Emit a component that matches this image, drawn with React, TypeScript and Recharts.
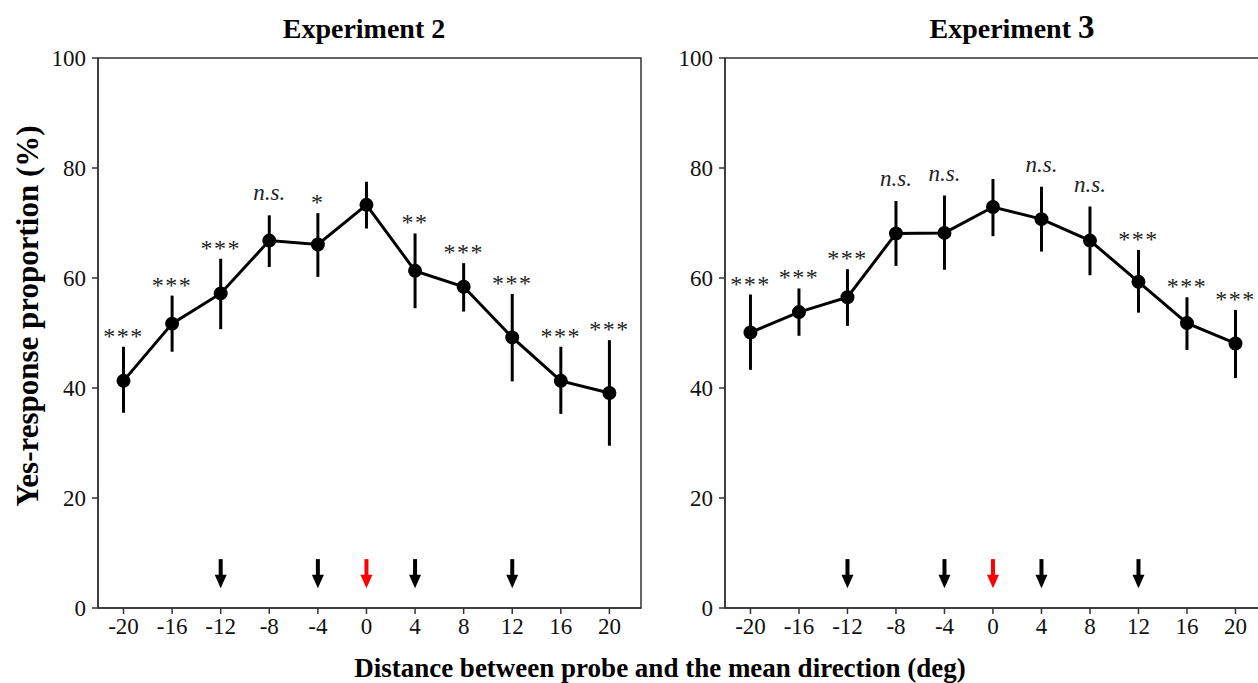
import React from "react";
import {
  ComposedChart,
  Line,
  Scatter,
  XAxis,
  YAxis,
  ErrorBar,
  LabelList,
  ReferenceArea,
} from "recharts";

const distances = [-20, -16, -12, -8, -4, 0, 4, 8, 12, 16, 20];

const exp2Mean = [41.3, 51.7, 57.2, 66.8, 66.1, 73.3, 61.3, 58.4, 49.2, 41.3, 39.1];
const exp2Upper = [47.5, 56.8, 63.5, 71.4, 71.8, 77.5, 68.1, 62.7, 57.1, 47.5, 48.7];
const exp2Lower = [35.5, 46.6, 50.7, 62.0, 60.2, 69.0, 54.5, 53.9, 41.2, 35.3, 29.5];
const exp2Sig = ["***", "***", "***", "n.s.", "*", "", "**", "***", "***", "***", "***"];

const exp3Mean = [50.1, 53.8, 56.5, 68.1, 68.2, 72.9, 70.7, 66.8, 59.3, 51.8, 48.1];
const exp3Upper = [57.0, 58.1, 61.6, 74.0, 75.0, 78.0, 76.6, 73.0, 65.1, 56.5, 54.2];
const exp3Lower = [43.3, 49.5, 51.3, 62.2, 61.5, 67.6, 64.8, 60.5, 53.7, 46.9, 41.8];
const exp3Sig = ["***", "***", "***", "n.s.", "n.s.", "", "n.s.", "n.s.", "***", "***", "***"];

const arrowX = [-12, -4, 0, 4, 12];
const arrowColors = ["#000", "#000", "#ff0000", "#000", "#000"];
const arrowLevel = 6.25;

const xTicks = [-20, -16, -12, -8, -4, 0, 4, 8, 12, 16, 20];
const yTicks = [0, 20, 40, 60, 80, 100];

const FONT = "'Liberation Serif', 'Times New Roman', serif";

function buildRows(mean: number[], upper: number[], lower: number[], sig: string[]) {
  return distances.map((d, i) => ({
    x: d,
    mean: mean[i],
    hi: upper[i],
    err: [mean[i] - lower[i], upper[i] - mean[i]],
    sig: sig[i],
  }));
}

const Arrow = (props: any) => {
  const { cx, cy, payload } = props;
  const c = payload.color;
  return (
    <g>
      <rect x={cx - 2} y={cy - 14.5} width={4} height={16} fill={c} />
      <polygon points={`${cx - 6},${cy + 1} ${cx + 6},${cy + 1} ${cx},${cy + 14.5}`} fill={c} />
    </g>
  );
};

const SigLabel = (props: any) => {
  const { x, y, value } = props;
  if (!value) return null;
  const isNs = value === "n.s.";
  return (
    <text
      x={x}
      y={y - (isNs ? 15 : 3)}
      textAnchor="middle"
      fontFamily={FONT}
      fontSize={isNs ? 23 : 24}
      fontStyle={isNs ? "italic" : "normal"}
      letterSpacing={isNs ? 0 : 1.5}
      fill="#222"
    >
      {value}
    </text>
  );
};

function Panel({ rows, width, margin, left }: any) {
  const arrows = arrowX.map((x, i) => ({ x, y: arrowLevel, color: arrowColors[i] }));
  const tickStyle = { fill: "#111", fontSize: 23, fontFamily: FONT };
  return (
    <div style={{ position: "absolute", left, top: 0 }}>
      <ComposedChart width={width} height={683} data={rows} margin={margin}>
        <XAxis
          dataKey="x"
          type="number"
          domain={[-22.1, 22.6]}
          ticks={xTicks}
          allowDataOverflow
          height={30}
          tick={tickStyle}
          tickSize={6}
          tickMargin={4}
          stroke="#333"
          strokeWidth={1.5}
        />
        <YAxis
          type="number"
          domain={[0, 100]}
          ticks={yTicks}
          width={50}
          tick={tickStyle}
          tickSize={6}
          tickMargin={6}
          stroke="#333"
          strokeWidth={1.5}
        />
        <ReferenceArea
          x1={-22.1}
          x2={22.6}
          y1={0}
          y2={100}
          fill="none"
          stroke="#333"
          strokeWidth={1.5}
          ifOverflow="visible"
        />
        <Line
          dataKey="mean"
          stroke="#000"
          strokeWidth={3}
          dot={{ r: 5.5, fill: "#000", stroke: "#000" }}
          activeDot={false}
          isAnimationActive={false}
        >
          <ErrorBar dataKey="err" direction="y" width={0} stroke="#000" strokeWidth={3} />
        </Line>
        <Line dataKey="hi" stroke="none" dot={false} activeDot={false} isAnimationActive={false}>
          <LabelList dataKey="sig" content={SigLabel} />
        </Line>
        <Scatter data={arrows} dataKey="y" shape={Arrow} isAnimationActive={false} />
      </ComposedChart>
    </div>
  );
}

export default function App() {
  const rows2 = buildRows(exp2Mean, exp2Upper, exp2Lower, exp2Sig);
  const rows3 = buildRows(exp3Mean, exp3Upper, exp3Lower, exp3Sig);
  return (
    <div
      style={{
        position: "absolute",
        left: 0,
        top: 0,
        width: 1258,
        height: 683,
        overflow: "hidden",
        background: "#fff",
      }}
    >
      <Panel rows={rows2} width={660} left={0} margin={{ top: 58, right: 19, bottom: 45, left: 48 }} />
      <Panel rows={rows3} width={640} left={640} margin={{ top: 58, right: 13, bottom: 45, left: 35 }} />
      <svg
        width={1258}
        height={683}
        style={{ position: "absolute", left: 0, top: 0, pointerEvents: "none" }}
      >
        <text x={364} y={38} textAnchor="middle" fontFamily={FONT} fontWeight="bold" fontSize={28} fill="#000">
          Experiment 2
        </text>
        <text x={1012} y={38} textAnchor="middle" fontFamily={FONT} fontWeight="bold" fontSize={28} fill="#000">
          Experiment <tspan fontSize={33}>3</tspan>
        </text>
        <text
          transform="translate(38, 316) rotate(-90)"
          textAnchor="middle"
          fontFamily={FONT}
          fontWeight="bold"
          fontSize={31}
          fill="#000"
        >
          Yes-response proportion (%)
        </text>
        <text x={660} y={677} textAnchor="middle" fontFamily={FONT} fontWeight="bold" fontSize={27} fill="#000">
          Distance between probe and the mean direction (deg)
        </text>
      </svg>
    </div>
  );
}
